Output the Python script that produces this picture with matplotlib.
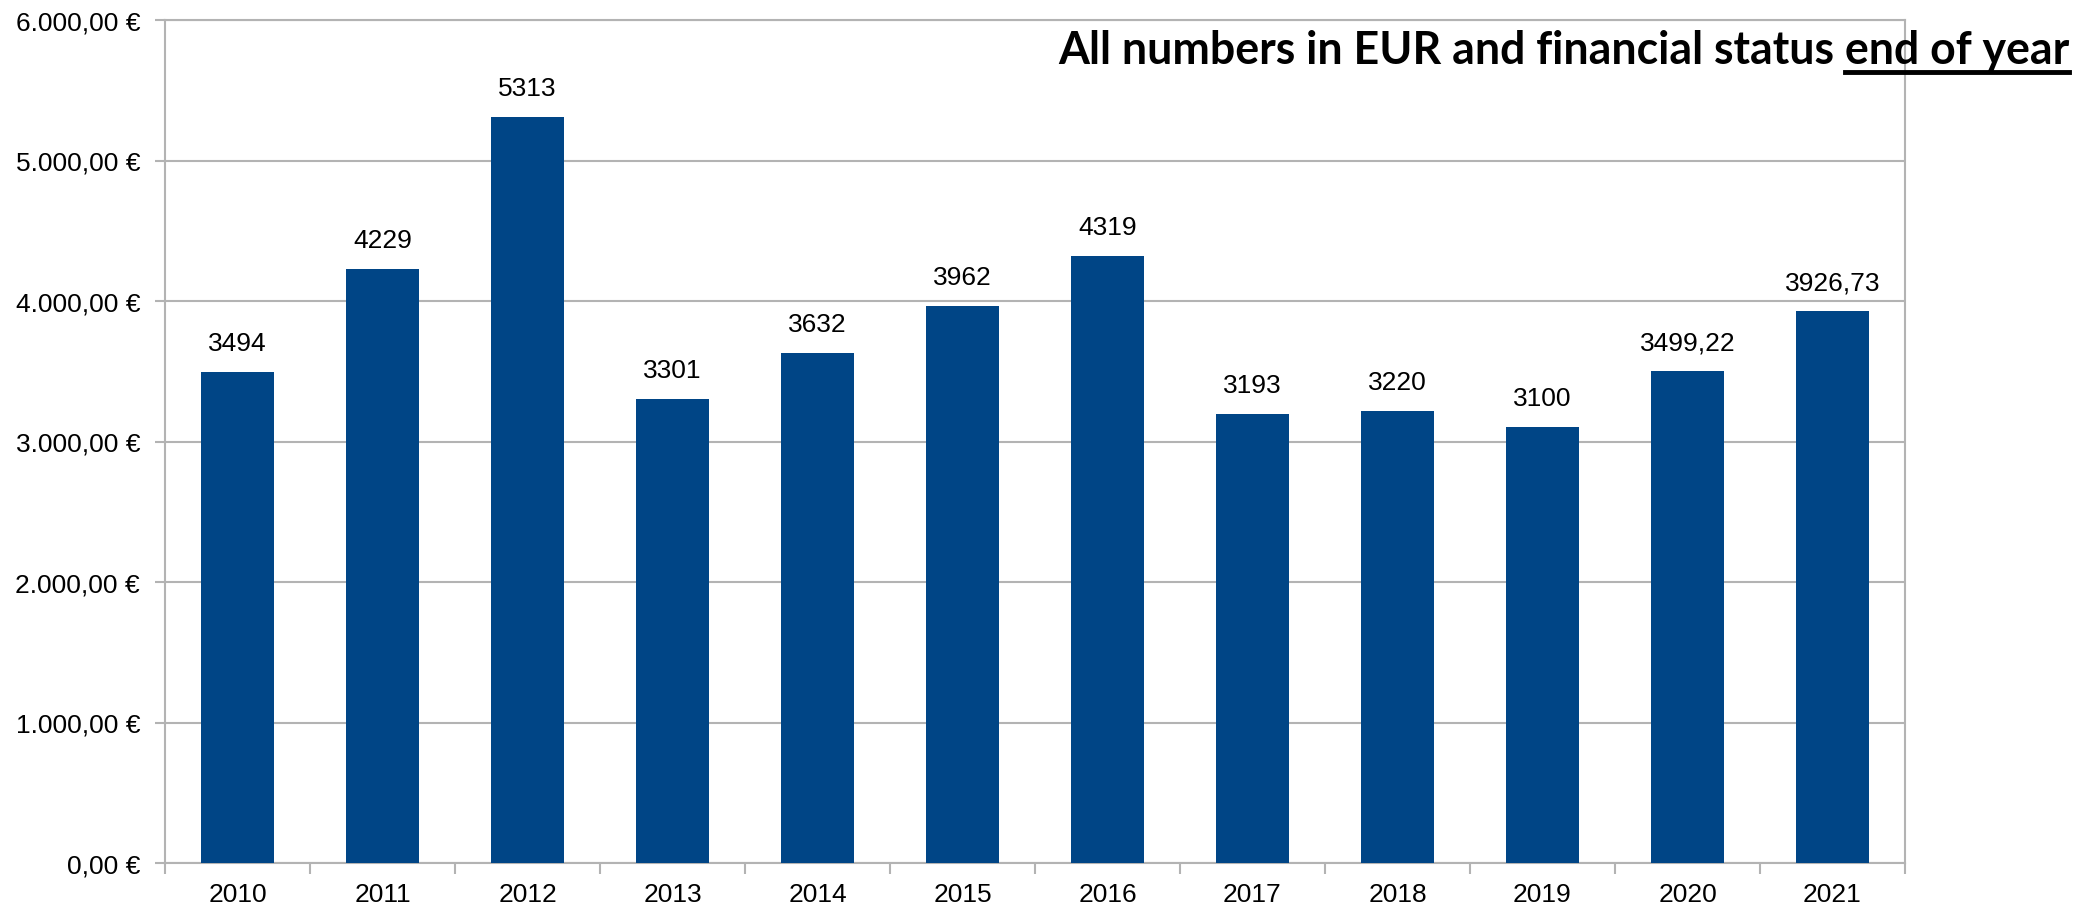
import matplotlib
matplotlib.use("Agg")
import matplotlib.pyplot as plt
from matplotlib.lines import Line2D

# data
years = ["2010", "2011", "2012", "2013", "2014", "2015",
         "2016", "2017", "2018", "2019", "2020", "2021"]
balance = [3494, 4229, 5313, 3301, 3632, 3962,
           4319, 3193, 3220, 3100, 3499.22, 3926.73]
y_ticks = [0, 1000, 2000, 3000, 4000, 5000, 6000]

title_main = "All numbers in EUR and financial status "
title_under = "end of year"

BAR_COLOR = "#004586"
GRID_COLOR = "#b3b3b3"
FONT = ["Liberation Sans", "DejaVu Sans"]
FS = 19

plt.rcParams["font.family"] = FONT

W, H, DPI = 2090, 912, 100
fig = plt.figure(figsize=(W / DPI, H / DPI), dpi=DPI)
ax = fig.add_axes([165 / W, 48 / H, (1905 - 165) / W, (864 - 21) / H])


def eur(v):
    s = f"{v:,.2f}".replace(",", "X").replace(".", ",").replace("X", ".")
    return s + " €"


def value_label(v):
    if float(v).is_integer():
        return str(int(v))
    return f"{v:.2f}".replace(".", ",")


x = list(range(len(years)))
bars = ax.bar(x, balance, width=0.5, color=BAR_COLOR, zorder=3)

for xi, v in zip(x, balance):
    ax.annotate(value_label(v), (xi, v), xytext=(0, 17), textcoords="offset pixels",
                ha="center", va="bottom", fontsize=FS, color="black")

ax.set_xlim(-0.5, len(years) - 0.5)
ax.set_ylim(0, 6000)
ax.set_yticks(y_ticks)
ax.set_yticklabels([eur(v) for v in y_ticks], fontsize=FS)

# categories are labeled in the middle, ticks sit on the boundaries
ax.set_xticks(x)
ax.set_xticklabels(years, fontsize=FS)
ax.set_xticks([i - 0.5 for i in range(len(years) + 1)], minor=True)
ax.tick_params(axis="x", which="major", length=0, pad=14)
ax.tick_params(axis="x", which="minor", length=8, width=1.5, color=GRID_COLOR)
ax.tick_params(axis="y", length=7, width=1.5, color=GRID_COLOR, pad=11)

ax.yaxis.grid(True, color=GRID_COLOR, linewidth=1.5, zorder=0)
ax.set_axisbelow(True)
for side in ["left", "right", "bottom", "top"]:
    ax.spines[side].set_color(GRID_COLOR)
    ax.spines[side].set_linewidth(1.5)

# title, right aligned with underlined tail
title_x = 2069 / W
title_y = 1 - 64 / H
title_font = ["Lato", "DejaVu Sans"]
t = fig.text(title_x, title_y, title_main + title_under, ha="right", va="baseline",
             fontsize=36, fontweight="bold", family=title_font)
fig.canvas.draw()
renderer = fig.canvas.get_renderer()
bb = t.get_window_extent(renderer)
# fit width to the reference (about 1010 px)
t.set_fontsize(36 * 1010 / bb.width)
fig.canvas.draw()
tail = fig.text(title_x, title_y, title_under, ha="right", va="baseline",
                fontsize=t.get_fontsize(), fontweight="bold", family=title_font, alpha=0)
fig.canvas.draw()
tb = tail.get_window_extent(renderer)
uy = 1 - 73 / H
fig.add_artist(Line2D([tb.x0 / W, tb.x1 / W], [uy, uy], color="black", linewidth=3.5,
                      transform=fig.transFigure))

fig.savefig("out.png", dpi=DPI)
